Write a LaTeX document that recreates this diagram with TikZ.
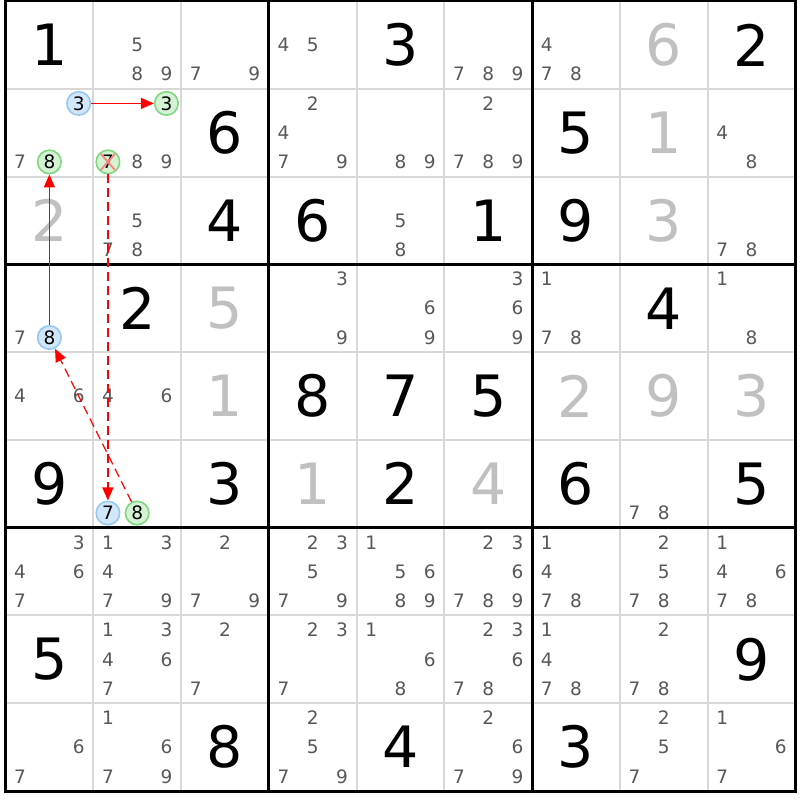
\documentclass[tikz,border=0pt]{standalone}
\usepackage{fontspec}
\setmainfont{DejaVu Sans}
\usetikzlibrary{arrows.meta}
\definecolor{candc}{RGB}{88,88,88}
\definecolor{solvc}{RGB}{192,192,192}
\definecolor{thinc}{RGB}{216,216,216}
\definecolor{bluefill}{RGB}{210,230,250}
\definecolor{bluedraw}{RGB}{150,200,240}
\definecolor{greenfill}{RGB}{212,242,212}
\definecolor{greendraw}{RGB}{130,214,130}
\definecolor{xred}{RGB}{255,130,130}
\newcommand\ccs{87.7778}
\newcommand\gx{5.5}
\newcommand\gy{1}
\tikzset{
  bigdig/.style={inner sep=0pt, font=\fontsize{57}{57}\selectfont},
  givenst/.style={bigdig, text=black},
  solvst/.style={bigdig, text=solvc},
  candst/.style={inner sep=0pt, font=\fontsize{18.5}{18.5}\selectfont, text=candc},
  hcand/.style={circle, line width=1.6pt, minimum size=23.5pt, inner sep=0pt, font=\fontsize{18.5}{18.5}\selectfont, text=black},
  bluecand/.style={hcand, draw=bluedraw, fill=bluefill},
  greencand/.style={hcand, draw=greendraw, fill=greenfill},
  thinline/.style={draw=thinc, line width=2pt},
  thickline/.style={draw=black, line width=3pt},
  link/.style={draw=red, line width=1.3pt, -{Triangle[length=13pt,width=11pt]}},
  weaklink/.style={link, dash pattern=on 9pt off 5pt},
  crossout/.style={draw=xred, line width=1.8pt},
}
\newcommand\GV[3]{\node[givenst] (g#1#2) at ({\gx+(#2-0.5)*\ccs},{\gy+(#1-0.5)*\ccs}) {#3};}
\newcommand\SV[3]{\node[solvst] (s#1#2) at ({\gx+(#2-0.5)*\ccs},{\gy+(#1-0.5)*\ccs}) {#3};}
\newcommand\CD[3]{\foreach \d in {#3}{%
  \pgfmathtruncatemacro\cc{mod(\d-1,3)}%
  \pgfmathtruncatemacro\rr{int((\d-1)/3)}%
  \node[candst] (k#1#2\d) at ({\gx+(#2-1)*\ccs+(2*\cc+1)*\ccs/6},{\gy+(#1-1)*\ccs+(2*\rr+1)*\ccs/6}) {\d};}}
\newcommand\HC[5]{%
  \pgfmathtruncatemacro\cc{mod(#4-1,3)}%
  \pgfmathtruncatemacro\rr{int((#4-1)/3)}%
  \node[#1] (#5) at ({\gx+(#3-1)*\ccs+(2*\cc+1)*\ccs/6},{\gy+(#2-1)*\ccs+(2*\rr+1)*\ccs/6}) {#4};}
\begin{document}
\begin{tikzpicture}[x=1pt,y=-1pt]
\useasboundingbox (0,0) rectangle (800,800);
\fill[white] (0,0) rectangle (800,800);
% thin grid lines
\foreach \i in {1,2,4,5,7,8}{
  \draw[thinline] ({\gx+\i*\ccs},\gy) -- ({\gx+\i*\ccs},{\gy+9*\ccs});
  \draw[thinline] (\gx,{\gy+\i*\ccs}) -- ({\gx+9*\ccs},{\gy+\i*\ccs});
}
\foreach \i in {3,6}{
  \draw[thickline] ({\gx+\i*\ccs},\gy) -- ({\gx+\i*\ccs},{\gy+9*\ccs});
  \draw[thickline] (\gx,{\gy+\i*\ccs}) -- ({\gx+9*\ccs},{\gy+\i*\ccs});
}
\draw[thickline] (\gx,\gy) rectangle ({\gx+9*\ccs},{\gy+9*\ccs});
% row 1
\GV{1}{1}{1} \CD{1}{2}{5,8,9} \CD{1}{3}{7,9} \CD{1}{4}{4,5} \GV{1}{5}{3}
\CD{1}{6}{7,8,9} \CD{1}{7}{4,7,8} \SV{1}{8}{6} \GV{1}{9}{2}
% row 2
\CD{2}{1}{7} \CD{2}{2}{8,9} \GV{2}{3}{6} \CD{2}{4}{2,4,7,9} \CD{2}{5}{8,9}
\CD{2}{6}{2,7,8,9} \GV{2}{7}{5} \SV{2}{8}{1} \CD{2}{9}{4,8}
% row 3
\SV{3}{1}{2} \CD{3}{2}{5,7,8} \GV{3}{3}{4} \GV{3}{4}{6} \CD{3}{5}{5,8}
\GV{3}{6}{1} \GV{3}{7}{9} \SV{3}{8}{3} \CD{3}{9}{7,8}
% row 4
\CD{4}{1}{7} \GV{4}{2}{2} \SV{4}{3}{5} \CD{4}{4}{3,9} \CD{4}{5}{6,9}
\CD{4}{6}{3,6,9} \CD{4}{7}{1,7,8} \GV{4}{8}{4} \CD{4}{9}{1,8}
% row 5
\CD{5}{1}{4,6} \CD{5}{2}{4,6} \SV{5}{3}{1} \GV{5}{4}{8} \GV{5}{5}{7}
\GV{5}{6}{5} \SV{5}{7}{2} \SV{5}{8}{9} \SV{5}{9}{3}
% row 6
\GV{6}{1}{9} \GV{6}{3}{3} \SV{6}{4}{1} \GV{6}{5}{2}
\SV{6}{6}{4} \GV{6}{7}{6} \CD{6}{8}{7,8} \GV{6}{9}{5}
% row 7
\CD{7}{1}{3,4,6,7} \CD{7}{2}{1,3,4,7,9} \CD{7}{3}{2,7,9} \CD{7}{4}{2,3,5,7,9}
\CD{7}{5}{1,5,6,8,9} \CD{7}{6}{2,3,6,7,8,9} \CD{7}{7}{1,4,7,8} \CD{7}{8}{2,5,7,8}
\CD{7}{9}{1,4,6,7,8}
% row 8
\GV{8}{1}{5} \CD{8}{2}{1,3,4,6,7} \CD{8}{3}{2,7} \CD{8}{4}{2,3,7} \CD{8}{5}{1,6,8}
\CD{8}{6}{2,3,6,7,8} \CD{8}{7}{1,4,7,8} \CD{8}{8}{2,7,8} \GV{8}{9}{9}
% row 9
\CD{9}{1}{6,7} \CD{9}{2}{1,6,7,9} \GV{9}{3}{8} \CD{9}{4}{2,5,7,9} \GV{9}{5}{4}
\CD{9}{6}{2,6,7,9} \GV{9}{7}{3} \CD{9}{8}{2,5,7} \CD{9}{9}{1,6,7}
% highlighted candidates
\HC{bluecand}{2}{1}{3}{a3}
\HC{greencand}{2}{2}{3}{b3}
\HC{greencand}{2}{1}{8}{a8}
\HC{greencand}{2}{2}{7}{b7}
\HC{bluecand}{4}{1}{8}{c8}
\HC{bluecand}{6}{2}{7}{d7}
\HC{greencand}{6}{2}{8}{d8}
\draw[crossout] ([shift={(-7,-8)}]b7.center) -- ([shift={(7,8)}]b7.center);
\draw[crossout] ([shift={(7,-8)}]b7.center) -- ([shift={(-7,8)}]b7.center);
% links
\draw[link] (a3) -- (b3);
\draw[link] (c8) -- (a8);
\draw[weaklink] (b7) -- (d7);
\draw[weaklink] (d8) -- (c8);
\end{tikzpicture}
\end{document}
